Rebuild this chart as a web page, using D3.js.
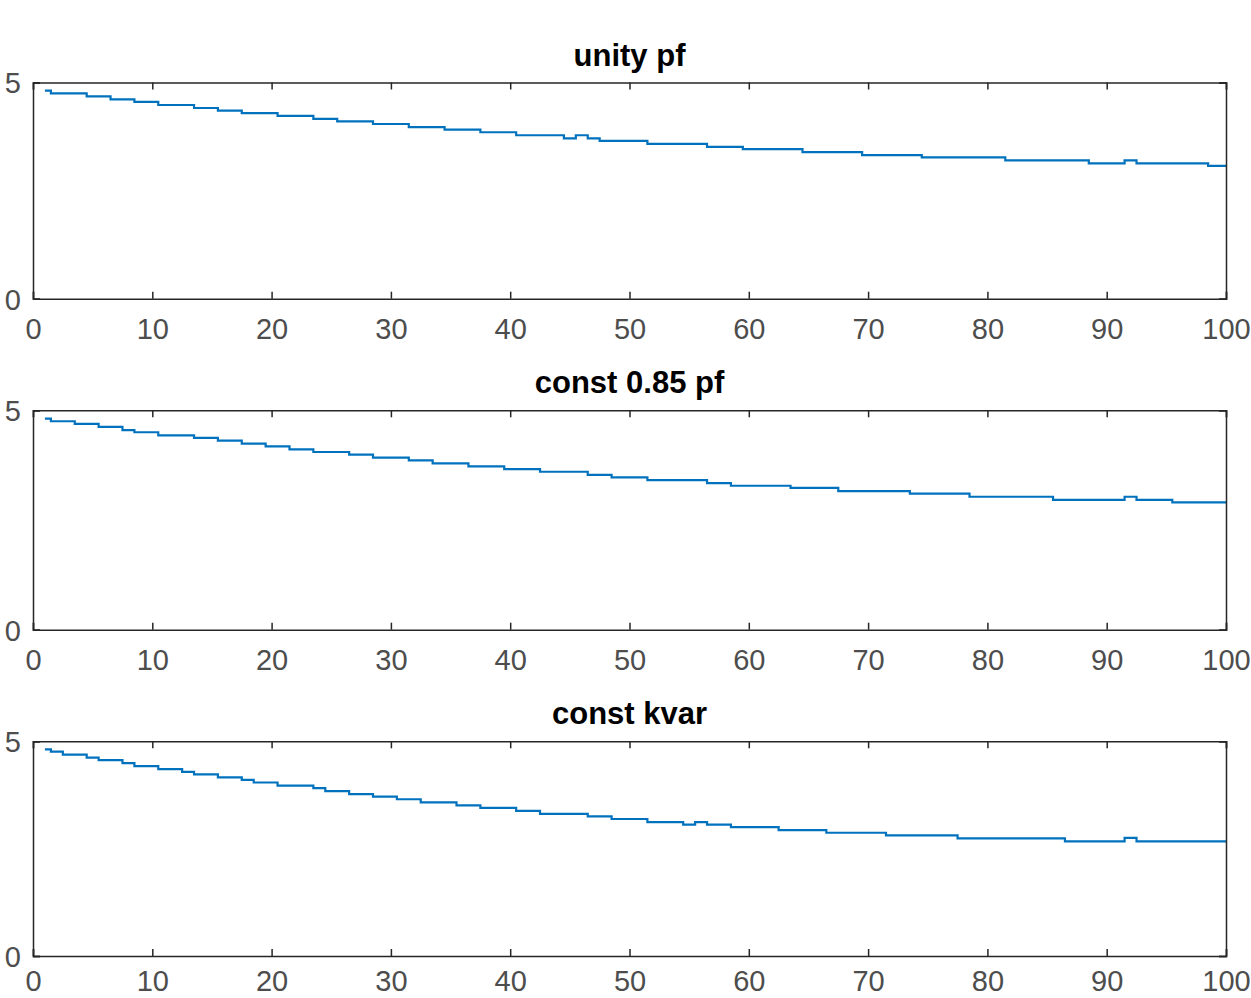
<!DOCTYPE html>
<html>
<head>
<meta charset="utf-8">
<script src="https://cdn.jsdelivr.net/npm/d3@7"></script>
<style>
  html, body { margin: 0; padding: 0; background: #fff; overflow: hidden; }
  svg { display: block; }
</style>
</head>
<body>
<svg id="chart" width="1251" height="998"></svg>
<script>
const titles = ["unity pf", "const 0.85 pf", "const kvar"];
const xValues = d3.range(1, 101);
const xTicks = [0, 10, 20, 30, 40, 50, 60, 70, 80, 90, 100];
const yTicks = [0, 5];

const unityPf = [
4.81,4.75,4.75,4.75,4.68,4.68,4.61,4.61,4.55,4.55,
4.48,4.48,4.48,4.41,4.41,4.35,4.35,4.29,4.29,4.29,
4.23,4.23,4.23,4.16,4.16,4.10,4.10,4.10,4.04,4.04,
4.04,3.97,3.97,3.97,3.91,3.91,3.91,3.85,3.85,3.85,
3.78,3.78,3.78,3.78,3.71,3.78,3.71,3.65,3.65,3.65,
3.65,3.58,3.58,3.58,3.58,3.58,3.51,3.51,3.51,3.46,
3.46,3.46,3.46,3.46,3.39,3.39,3.39,3.39,3.39,3.32,
3.32,3.32,3.32,3.32,3.27,3.27,3.27,3.27,3.27,3.27,
3.27,3.20,3.20,3.20,3.20,3.20,3.20,3.20,3.13,3.13,
3.13,3.20,3.13,3.13,3.13,3.13,3.13,3.13,3.07,3.07];

const const085Pf = [
4.81,4.75,4.75,4.69,4.69,4.62,4.62,4.55,4.50,4.50,
4.43,4.43,4.43,4.37,4.37,4.31,4.31,4.24,4.24,4.18,
4.18,4.11,4.11,4.05,4.05,4.05,3.99,3.99,3.92,3.92,
3.92,3.86,3.86,3.79,3.79,3.79,3.72,3.72,3.72,3.66,
3.66,3.66,3.60,3.60,3.60,3.60,3.53,3.53,3.47,3.47,
3.47,3.41,3.41,3.41,3.41,3.41,3.34,3.34,3.28,3.28,
3.28,3.28,3.28,3.23,3.23,3.23,3.23,3.16,3.16,3.16,
3.16,3.16,3.16,3.10,3.10,3.10,3.10,3.10,3.03,3.03,
3.03,3.03,3.03,3.03,3.03,2.96,2.96,2.96,2.96,2.96,
2.96,3.03,2.96,2.96,2.96,2.90,2.90,2.90,2.90,2.90];

const constKvar = [
4.81,4.76,4.69,4.69,4.62,4.56,4.56,4.49,4.42,4.42,
4.35,4.35,4.29,4.23,4.23,4.16,4.16,4.10,4.04,4.04,
3.97,3.97,3.97,3.91,3.84,3.84,3.77,3.77,3.71,3.71,
3.65,3.65,3.58,3.58,3.58,3.51,3.51,3.45,3.45,3.45,
3.38,3.38,3.31,3.31,3.31,3.31,3.25,3.25,3.19,3.19,
3.19,3.12,3.12,3.12,3.06,3.12,3.06,3.06,3.00,3.00,
3.00,3.00,2.93,2.93,2.93,2.93,2.87,2.87,2.87,2.87,
2.87,2.81,2.81,2.81,2.81,2.81,2.81,2.74,2.74,2.74,
2.74,2.74,2.74,2.74,2.74,2.74,2.67,2.67,2.67,2.67,
2.67,2.75,2.67,2.67,2.67,2.67,2.67,2.67,2.67,2.67];

const series = [unityPf, const085Pf, constKvar];

// layout (pixel boxes of the three axes)
const left = 33, right = 1226;
const panels = [
  {top: 82.5, bottom: 298.7, labelY: 40},
  {top: 410.3, bottom: 629.7, labelY: 40},
  {top: 741.3, bottom: 956, labelY: 35}
];

const svg = d3.select("#chart");
const axisColor = "#262626";
const tickTextColor = "#4d4d4d";
const fontFamily = "'Liberation Sans', Arial, Helvetica, sans-serif";

const x = d3.scaleLinear().domain([0, 100]).range([left, right]);

panels.forEach((p, i) => {
  const y = d3.scaleLinear().domain([0, 5]).range([p.bottom, p.top]);
  const g = svg.append("g");

  // data line
  const line = d3.line()
    .x((d, k) => x(xValues[k]))
    .y(d => y(d))
    .curve(d3.curveStep);
  g.append("path")
    .datum(series[i])
    .attr("d", line)
    .attr("fill", "none")
    .attr("stroke", "#0072BD")
    .attr("stroke-width", 2.2);

  // axes with inward ticks
  const xAxisB = d3.axisBottom(x).tickValues(xTicks).tickSize(-7).tickPadding(0).tickFormat(d3.format("d"));
  const gb = g.append("g").attr("transform", `translate(0,${p.bottom})`).call(xAxisB);
  const xAxisT = d3.axisTop(x).tickValues(xTicks).tickSize(-7).tickFormat("");
  const gt = g.append("g").attr("transform", `translate(0,${p.top})`).call(xAxisT);
  const yAxisL = d3.axisLeft(y).tickValues(yTicks).tickSize(-7).tickPadding(0).tickFormat(d3.format("d"));
  const gl = g.append("g").attr("transform", `translate(${left},0)`).call(yAxisL);
  const yAxisR = d3.axisRight(y).tickValues(yTicks).tickSize(-7).tickFormat("");
  const gr = g.append("g").attr("transform", `translate(${right},0)`).call(yAxisR);

  [gb, gt, gl, gr].forEach(a => {
    a.select(".domain").attr("stroke", axisColor).attr("stroke-width", 1.5);
    a.selectAll(".tick line").attr("stroke", axisColor).attr("stroke-width", 1.5);
  });

  gb.selectAll(".tick text")
    .attr("y", p.labelY).attr("dy", null)
    .attr("fill", tickTextColor)
    .style("font-family", fontFamily)
    .style("font-size", "29px");
  gl.selectAll(".tick text")
    .attr("x", -12).attr("dy", "0.36em")
    .attr("fill", tickTextColor)
    .style("font-family", fontFamily)
    .style("font-size", "29px");

  // title
  g.append("text")
    .attr("x", (left + right) / 2)
    .attr("y", p.top - 17)
    .attr("text-anchor", "middle")
    .attr("fill", "#000")
    .style("font-family", fontFamily)
    .style("font-weight", "bold")
    .style("font-size", "31px")
    .text(titles[i]);
});
</script>
</body>
</html>
